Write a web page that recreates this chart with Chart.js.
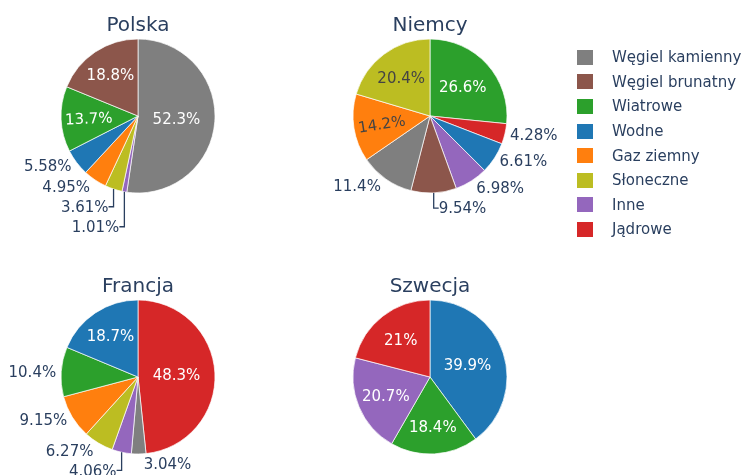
<!DOCTYPE html>
<html>
<head>
<meta charset="utf-8">
<script src="https://cdn.jsdelivr.net/npm/chart.js@4.4.1/dist/chart.umd.min.js"></script>
<style>
  html, body { margin: 0; padding: 0; background: #fff; }
  #wrap { position: relative; width: 741px; height: 475px; overflow: hidden; }
  #wrap canvas { position: absolute; left: 0; top: 0; }
  #legend { position: absolute; left: 577px; top: 45px; font: 15px "DejaVu Sans", Verdana, sans-serif; color: #2a3f5f; }
  .item { height: 24.6px; display: flex; align-items: center; white-space: nowrap; }
  .sw { width: 16px; height: 15px; margin-right: 19px; flex: none; }
</style>
</head>
<body>
<div id="wrap">
  <canvas id="pie0" width="741" height="475"></canvas>
  <canvas id="pie1" width="741" height="475"></canvas>
  <canvas id="pie2" width="741" height="475"></canvas>
  <canvas id="pie3" width="741" height="475"></canvas>
  <div id="legend"></div>
</div>
<script>
// dane (udział w produkcji energii, %)
const categories = ["Węgiel kamienny", "Węgiel brunatny", "Wiatrowe", "Wodne", "Gaz ziemny", "Słoneczne", "Inne", "Jądrowe"];
const countries = ["Polska", "Niemcy", "Francja", "Szwecja"];
const polska = [52.3, 18.8, 13.7, 5.58, 4.95, 3.61, 1.01, 0];
const niemcy = [11.4, 9.54, 26.6, 6.61, 14.2, 20.4, 6.98, 4.28];
const francja = [3.04, 0, 10.4, 18.7, 9.15, 6.27, 4.06, 48.3];
const szwecja = [0, 0, 18.4, 39.9, 0, 0, 20.7, 21];
const seriesByCountry = [polska, niemcy, francja, szwecja];

// wygląd
const colors = ["#7f7f7f", "#8c564b", "#2ca02c", "#1f77b4", "#ff7f0e", "#bcbd22", "#9467bd", "#d62728"];
const W = 741, H = 475, R = 77, BW = 0.7;
const centers = [[138, 116], [430, 116], [138, 377], [430, 377]];
const FONT = '"DejaVu Sans", Verdana, sans-serif';
const TEXT_COLOR = "#2a3f5f";
const LABEL_H = 20;   // wysokość etykiety (układ na zewnątrz)
const FIT_H = 18;     // wysokość etykiety przy dopasowaniu do wycinka
const TEXTPAD = 3.75;

function fmt(v) {
  return Number(v.toPrecision(3)) + "%";
}

// kolejność jak w plotly: największy od godziny 12 w prawo, reszta malejąco przeciwnie do wskazówek
function plotlyOrder(values) {
  const idx = values.map((v, i) => i).filter(i => values[i] > 0)
    .sort((a, b) => values[b] - values[a]);
  return [idx[0], ...idx.slice(1).reverse()];
}

function isDark(hex) {
  const n = parseInt(hex.slice(1), 16);
  const r = n >> 16, g = (n >> 8) & 255, b = n & 255;
  return (r * 299 + g * 587 + b * 114) / 1000 < 128;
}

function calcRotate(t) {
  return (180 / Math.PI * t + 720) % 180 - 90;
}

function maxHalfSize(a, half, r) {
  const q = a + 1 / (2 * Math.tan(half));
  return r * Math.min(1 / (Math.sqrt(q * q + 0.5) + q), 1 / (Math.sqrt(a * a + 0.5) + a));
}

function calcRCenter(a, b) {
  return Math.sqrt(1 - b * b) - a * b;
}

// dopasowanie tekstu wewnątrz wycinka (null -> etykieta na zewnątrz)
function insideTransform(w, h, r, half, theta) {
  const rIns = Math.min(1 / (1 + 1 / Math.sin(half)), 0.5);
  const ins = { scale: rIns * r * 2 / Math.hypot(w, h), rCenter: 1 - rIns, rotate: 0 };
  if (ins.scale >= 1) return ins;
  const rp = Math.max(0, r - 2 * TEXTPAD);
  let a = h / w;
  let s = maxHalfSize(a, half, rp);
  const tan = { scale: 2 * s / w, rCenter: calcRCenter(a, s / rp), rotate: calcRotate(theta + Math.PI / 2) };
  a = w / h;
  s = maxHalfSize(a, half, rp);
  const rad = { scale: 2 * s / h, rCenter: calcRCenter(a, s / rp), rotate: calcRotate(theta) };
  let best = ins;
  [tan, rad].forEach(t => { if (t.scale > best.scale) best = t; });
  return best.scale >= 1 ? best : null;
}

const pieText = {
  id: "pieText",
  afterDraw(chart, args, opts) {
    const ctx = chart.ctx;
    const arcs = chart.getDatasetMeta(0).data;
    const ds = chart.data.datasets[0];
    const cx = arcs[0].x, cy = arcs[0].y, r = arcs[0].outerRadius;
    ctx.save();

    // tytuł
    ctx.font = "20px " + FONT;
    ctx.fillStyle = TEXT_COLOR;
    ctx.textAlign = "center";
    ctx.textBaseline = "alphabetic";
    ctx.fillText(opts.title, cx, cy - r - 8);

    ctx.font = "15px " + FONT;
    ctx.textBaseline = "middle";
    const outside = [];
    arcs.forEach((arc, i) => {
      const txt = fmt(ds.data[i]);
      const w = ctx.measureText(txt).width;
      const mid = (arc.startAngle + arc.endAngle) / 2;
      const half = (arc.endAngle - arc.startAngle) / 2;
      const theta = mid + Math.PI / 2;
      const t = insideTransform(w, FIT_H, r, half, theta);
      if (t) {
        const x = cx + Math.cos(mid) * r * t.rCenter;
        const y = cy + Math.sin(mid) * r * t.rCenter;
        ctx.save();
        ctx.translate(x, y);
        ctx.rotate(t.rotate * Math.PI / 180);
        ctx.fillStyle = isDark(ds.backgroundColor[i]) ? "#fff" : "#444";
        ctx.fillText(txt, 0, 1.5);
        ctx.restore();
      } else {
        const px = r * Math.cos(mid), py = r * Math.sin(mid);
        let dx = w / 2, dy = LABEL_H / 2;
        if (px < 0) dx = -dx;
        if (py < 0) dy = -dy;
        const tx = dx + Math.abs(dy) * (dx > 0 ? 1 : -1) / 2;
        const ty = dy / (1 + px * px / (py * py));
        outside.push({ txt, px, py, x: cx + px + tx, yMid: cy + py + ty, extra: 0 });
      }
    });

    // rozsuwanie etykiet zewnętrznych (jak scootLabels w plotly)
    const h = LABEL_H;
    const quads = [[[], []], [[], []]];
    outside.forEach(p => quads[p.py < 0 ? 0 : 1][p.px < 0 ? 0 : 1].push(p));
    for (let yh = 0; yh < 2; yh++) {
      for (let xh = 0; xh < 2; xh++) {
        const q = quads[yh][xh];
        q.sort(yh ? (a, b) => a.py - b.py : (a, b) => b.py - a.py);
        const opp = quads[1 - yh][xh];
        const firstOpp = yh && opp.length ? opp[0] : null;
        q.forEach((p, i) => {
          const prev = i ? q[i - 1] : firstOpp;
          if (!prev) return;
          const prevOuter = prev.extra + (yh ? prev.yMid + h / 2 : prev.yMid - h / 2);
          const inner = yh ? p.yMid - h / 2 : p.yMid + h / 2;
          const ne = prevOuter - inner;
          if (ne * (yh ? 1 : -1) > 0) p.extra = ne;
        });
      }
    }

    ctx.fillStyle = TEXT_COLOR;
    ctx.strokeStyle = TEXT_COLOR;
    ctx.lineWidth = 1.3;
    outside.forEach(p => {
      const y = p.yMid + p.extra;
      if (p.extra) {
        const x0 = cx + p.px;
        ctx.beginPath();
        ctx.moveTo(x0, cy + p.py);
        ctx.lineTo(x0, y);
        ctx.lineTo(x0 + (p.px < 0 ? -1 : 1) * h / 4, y);
        ctx.stroke();
      }
      ctx.fillText(p.txt, p.x, y + 1.5);
    });
    ctx.restore();
  }
};

function makePie(k) {
  const vals = seriesByCountry[k];
  const order = plotlyOrder(vals);
  const [cx, cy] = centers[k];
  const half = R + BW / 2;
  new Chart(document.getElementById("pie" + k), {
    type: "pie",
    data: {
      labels: order.map(i => categories[i]),
      datasets: [{
        data: order.map(i => vals[i]),
        backgroundColor: order.map(i => colors[i]),
        borderColor: "#ffffff",
        borderWidth: BW
      }]
    },
    options: {
      responsive: false,
      animation: false,
      devicePixelRatio: 1,
      events: [],
      layout: { padding: { left: cx - half, right: W - cx - half, top: cy - half, bottom: H - cy - half } },
      plugins: {
        legend: { display: false },
        tooltip: { enabled: false },
        pieText: { title: countries[k] }
      }
    },
    plugins: [pieText]
  });
}

function setupLegend() {
  const legend = document.getElementById("legend");
  categories.forEach((name, i) => {
    const item = document.createElement("div");
    item.className = "item";
    const sw = document.createElement("span");
    sw.className = "sw";
    sw.style.background = colors[i];
    const label = document.createElement("span");
    label.textContent = name;
    item.appendChild(sw);
    item.appendChild(label);
    legend.appendChild(item);
  });
}

countries.forEach((c, k) => makePie(k));
setupLegend();
</script>
</body>
</html>
